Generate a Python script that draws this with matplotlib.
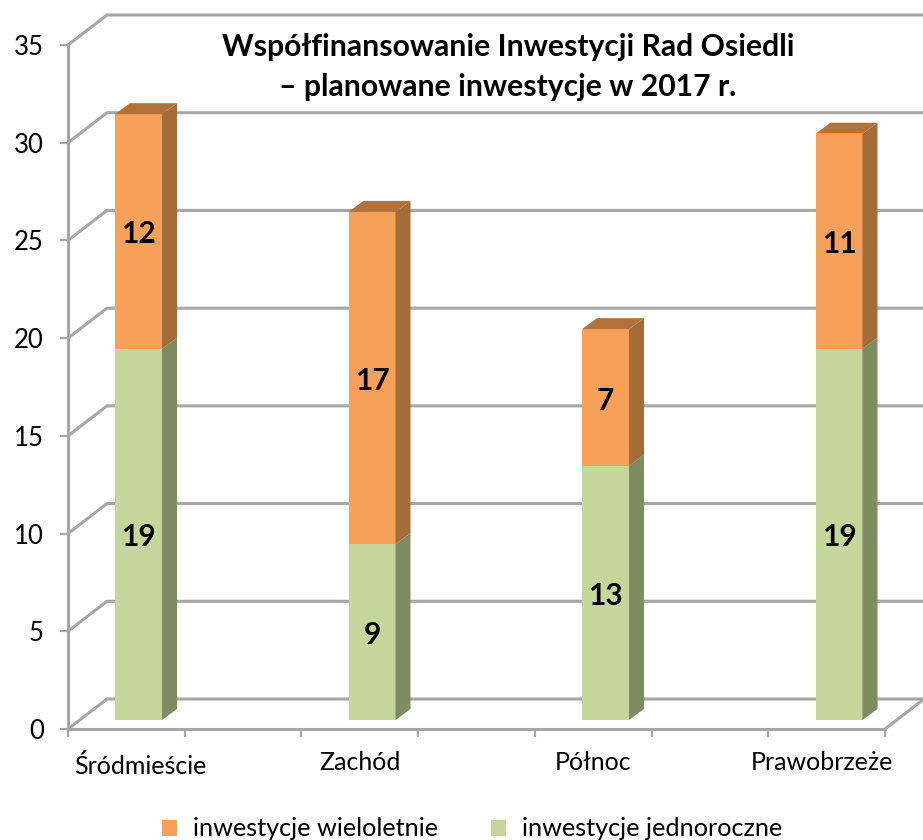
#!/usr/bin/python3
import numpy as np
import matplotlib
matplotlib.use("Agg")
import matplotlib.pyplot as plt
from matplotlib.patches import Polygon

plt.rcParams['font.family'] = ['Lato', 'DejaVu Sans']

districts = ["Śródmieście", "Zachód", "Północ", "Prawobrzeże"]
jednoroczne = [19, 9, 13, 19]
wieloletnie = [12, 17, 7, 11]
y_ticks = [0, 5, 10, 15, 20, 25, 30, 35]
title = "Współfinansowanie Inwestycji Rad Osiedli\n– planowane inwestycje w 2017 r."

GREY = "#a6a6a6"
ORANGE, ORANGE_SIDE, ORANGE_TOP = "#f6a059", "#a56c38", "#b3723a"
GREEN, GREEN_SIDE = "#c5d79c", "#7f8b60"

W, H = 923, 840
fig = plt.figure(figsize=(W / 100, H / 100), dpi=100)
ax = fig.add_axes([68 / W, (H - 729) / H, 817 / W, 684 / H])

# axes scale: one category = 233.5 px, one unit = 19.54 px
xmin, xmax = -0.302, 3.197
ax.set_xlim(xmin, xmax)
ax.set_ylim(0, 35)
px = 1 / 233.5
py = 35 / 684

# back wall and side wall lines
depth_x, depth_y = 39 * px, 30 * py
for v in y_ticks:
    ax.plot([xmin, xmin + depth_x, xmax + depth_x], [v, v + depth_y, v + depth_y],
            color=GREY, lw=2.2, clip_on=False, zorder=1)
ax.plot([xmax, xmax + depth_x], [0, depth_y], color=GREY, lw=2.2, clip_on=False, zorder=1)

# bars stand a bit inside the floor
base = 9 * py
bw = 47 * px
sx, sy = 15 * px, 11 * py
x = np.arange(len(districts))
b1 = ax.bar(x, jednoroczne, bw, bottom=base, color=GREEN, zorder=3, clip_on=False,
            label="inwestycje jednoroczne")
tops = np.array(jednoroczne)
b2 = ax.bar(x, wieloletnie, bw, bottom=base + tops, color=ORANGE, zorder=3, clip_on=False,
            label="inwestycje wieloletnie")

for i in x:
    r = i + bw / 2
    l = i - bw / 2
    y1 = base + jednoroczne[i]
    y2 = y1 + wieloletnie[i]
    ax.add_patch(Polygon([(r, base), (r + sx, base + sy), (r + sx, y1 + sy), (r, y1)],
                         color=GREEN_SIDE, lw=0, zorder=3))
    ax.add_patch(Polygon([(r, y1), (r + sx, y1 + sy), (r + sx, y2 + sy), (r, y2)],
                         color=ORANGE_SIDE, lw=0, zorder=3))
    ax.add_patch(Polygon([(l, y2), (l + sx, y2 + sy), (r + sx, y2 + sy), (r, y2)],
                         color=ORANGE_TOP, lw=0, zorder=3))
    ax.text(i, base + jednoroczne[i] / 2 - 3 * py, str(jednoroczne[i]), ha="center", va="center",
            fontsize=21.5, fontweight="bold", color="black", zorder=5)
    ax.text(i, y1 + wieloletnie[i] / 2 - 3 * py, str(wieloletnie[i]), ha="center", va="center",
            fontsize=21.5, fontweight="bold", color="black", zorder=5)

for s in ["top", "right"]:
    ax.spines[s].set_visible(False)
for s in ["left", "bottom"]:
    ax.spines[s].set_color(GREY)
    ax.spines[s].set_linewidth(2.2)
    ax.spines[s].set_zorder(2)

ax.set_yticks(y_ticks)
ax.set_xticks(np.linspace(xmin, xmax, 8))
ax.set_xticklabels([])
ax.tick_params(axis="both", color=GREY, width=1.6, length=5.5)
ax.tick_params(axis="y", labelsize=18.5, pad=12, labelcolor="black")

# category labels sit a little off the bars in the original
label_dx = [2, -12, -12, -17]
label_dy = [-37, -34, -34, -34]
for i, name in enumerate(districts):
    ax.annotate(name, (i, 0), xytext=(label_dx[i] * 0.72, label_dy[i] * 0.72),
                textcoords="offset points", ha="center", va="center", fontsize=18, annotation_clip=False)

fig.text(508 / W, 1 - 67 / H, title, ha="center", va="center", fontsize=21.7,
         fontweight="bold", linespacing=1.5)

ax.legend([b2, b1], [b2.get_label(), b1.get_label()], ncol=2, frameon=False,
          loc="center", bbox_to_anchor=(472 / W, 1 - 829 / H), bbox_transform=fig.transFigure,
          fontsize=18.2, handlelength=0.6, handleheight=0.6, handletextpad=0.62, columnspacing=2.1,
          borderpad=0)

fig.savefig("out.png", dpi=100)
